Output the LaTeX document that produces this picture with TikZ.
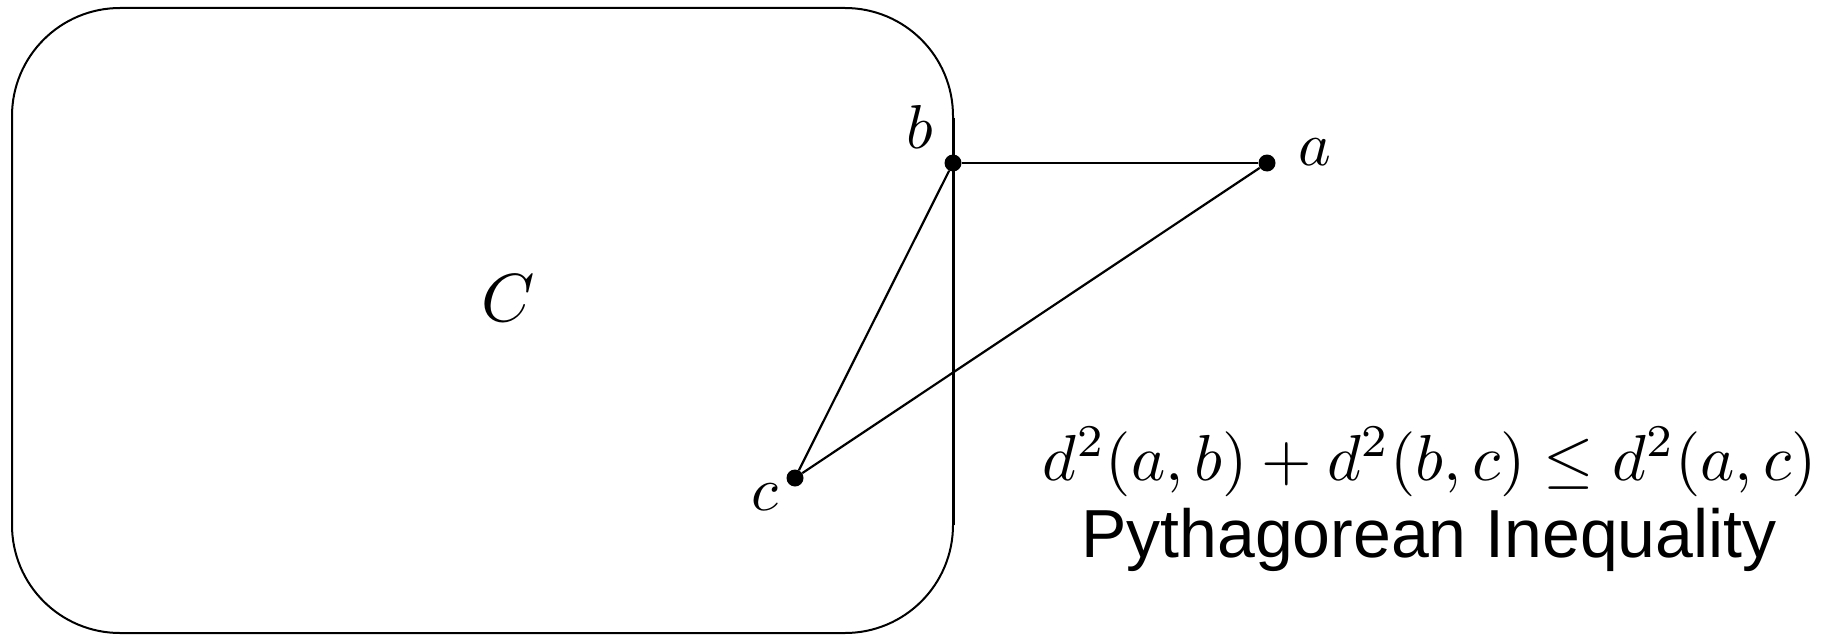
\documentclass[tikz,border=0pt]{standalone}
\usepackage{fontspec}
\usepackage{graphicx}
\newfontfamily\arialfont{Liberation Sans}
\tikzset{
  dot/.style={circle,fill=black,inner sep=0pt,minimum size=17pt},
  lbl/.style={inner sep=0pt},
  edge/.style={line width=2.2pt},
}
\begin{document}
\begin{tikzpicture}[x=1pt,y=-1pt]
\useasboundingbox (0,0) rectangle (1827,634);
% set C
\draw[line width=2pt,rounded corners=108pt] (12,8) rectangle (953,633);
\draw[line width=3pt] (953,118) -- (953,525);
\node[lbl] (C) at (508,298) {\scalebox{6.8}{$C$}};
% points
\node[dot] (b) at (953,163) {};
\node[dot] (a) at (1267,163) {};
\node[dot] (c) at (795,478) {};
\node[lbl] (lb) at (920,127) {\scalebox{6.2}{$b$}};
\node[lbl] (la) at (1315,152) {\scalebox{6.2}{$a$}};
\node[lbl] (lc) at (765,497) {\scalebox{6.2}{$c$}};
\draw[edge] (b) -- (a);
\draw[edge] (b) -- (c);
\draw[edge] (c) -- (a);
% texts
\node[inner sep=0pt,anchor=base] (eq) at (1430,480) {\scalebox{6.5}{$d^2(a,b)+d^2(b,c)\le d^2(a,c)$}};
\node[inner sep=0pt,anchor=base,font=\arialfont\fontsize{68}{76}\selectfont] (name) at (1429,557) {Pythagorean Inequality};
\end{tikzpicture}
\end{document}
